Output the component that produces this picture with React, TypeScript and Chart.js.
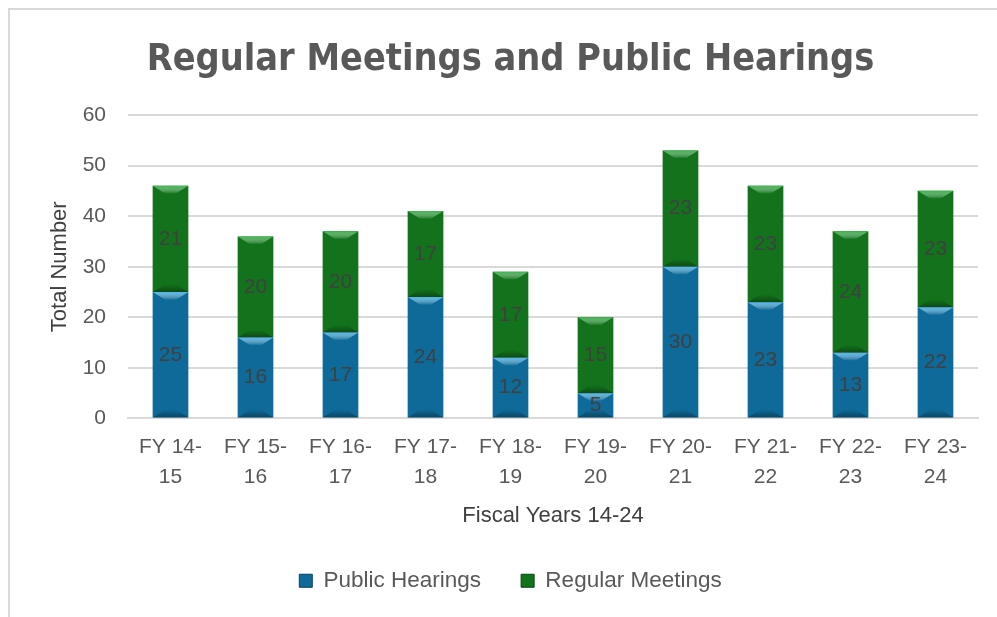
import React, { useEffect, useRef } from "react";
import { Chart, registerables } from "chart.js";

Chart.register(...registerables);

const categories: string[][] = [
  ["FY 14-", "15"], ["FY 15-", "16"], ["FY 16-", "17"], ["FY 17-", "18"], ["FY 18-", "19"],
  ["FY 19-", "20"], ["FY 20-", "21"], ["FY 21-", "22"], ["FY 22-", "23"], ["FY 23-", "24"],
];
const publicHearings = [25, 16, 17, 24, 12, 5, 30, 23, 13, 22];
const regularMeetings = [21, 20, 20, 17, 17, 15, 23, 23, 24, 23];

const FONT = "'Liberation Sans', Arial, sans-serif";
const TEXT = "#595959";

function barGradient(ctx: CanvasRenderingContext2D, x0: number, x1: number, dark: string, mid: string) {
  const g = ctx.createLinearGradient(x0, 0, x1, 0);
  g.addColorStop(0, dark);
  g.addColorStop(0.12, mid);
  g.addColorStop(0.88, mid);
  g.addColorStop(1, dark);
  return g;
}

const bevelPlugin = {
  id: "bevel",
  afterDatasetsDraw(chart: any) {
    const ctx = chart.ctx as CanvasRenderingContext2D;
    const cfg = [
      { light: "#4fb6e8", dark: "#0a3e5c" },
      { light: "#3fb34f", dark: "#0a3a0c" },
    ];
    chart.data.datasets.forEach((ds: any, di: number) => {
      const meta = chart.getDatasetMeta(di);
      meta.data.forEach((bar: any) => {
        const { x, y, base, width } = bar.getProps(["x", "y", "base", "width"], true);
        const l = x - width / 2, r = x + width / 2;
        const top = Math.min(y, base), bot = Math.max(y, base);
        const b = 8;
        ctx.save();
        const gt = ctx.createLinearGradient(0, top, 0, top + b);
        gt.addColorStop(0, cfg[di].light);
        gt.addColorStop(1, "rgba(255,255,255,0)");
        ctx.fillStyle = gt;
        ctx.beginPath();
        ctx.moveTo(l, top);
        ctx.lineTo(r, top);
        ctx.lineTo(r - b * 1.6, top + b);
        ctx.lineTo(l + b * 1.6, top + b);
        ctx.closePath();
        ctx.fill();
        const gb = ctx.createLinearGradient(0, bot - b, 0, bot);
        gb.addColorStop(0, "rgba(0,0,0,0)");
        gb.addColorStop(1, "rgba(0,0,0,0.35)");
        ctx.fillStyle = gb;
        ctx.beginPath();
        ctx.moveTo(l + b * 1.6, bot - b);
        ctx.lineTo(r - b * 1.6, bot - b);
        ctx.lineTo(r, bot);
        ctx.lineTo(l, bot);
        ctx.closePath();
        ctx.fill();
        ctx.restore();
      });
    });
    ctx.save();
    ctx.font = `21px ${FONT}`;
    ctx.fillStyle = "#404040";
    ctx.textAlign = "center";
    ctx.textBaseline = "middle";
    chart.data.datasets.forEach((ds: any, di: number) => {
      const meta = chart.getDatasetMeta(di);
      meta.data.forEach((bar: any, i: number) => {
        const { x, y, base } = bar.getProps(["x", "y", "base"], true);
        ctx.fillText(String(ds.data[i]), x, (y + base) / 2);
      });
    });
    ctx.restore();
  },
};

export default function App() {
  const ref = useRef<HTMLCanvasElement>(null);
  useEffect(() => {
    const canvas = ref.current!;
    const chart = new Chart(canvas, {
      type: "bar",
      data: {
        labels: categories,
        datasets: [
          {
            label: "Public Hearings",
            data: publicHearings,
            backgroundColor: (c: any) => {
              const el = c.element;
              if (!el || el.width === undefined) return "#0e6a98";
              return barGradient(c.chart.ctx, el.x - el.width / 2, el.x + el.width / 2, "#06405f", "#0e6a98");
            },
            borderWidth: 0,
          },
          {
            label: "Regular Meetings",
            data: regularMeetings,
            backgroundColor: (c: any) => {
              const el = c.element;
              if (!el || el.width === undefined) return "#12731c";
              return barGradient(c.chart.ctx, el.x - el.width / 2, el.x + el.width / 2, "#084410", "#12731c");
            },
            borderWidth: 0,
          },
        ],
      },
      options: {
        animation: false,
        responsive: false,
        layout: { padding: { left: 33, right: 19, top: 10, bottom: 15 } },
        datasets: { bar: { barPercentage: 0.42, categoryPercentage: 1 } },
        plugins: {
          title: {
            display: true,
            text: "Regular Meetings and Public Hearings",
            color: TEXT,
            font: { family: "'Liberation Sans Narrow', 'DejaVu Sans Condensed', Arial, sans-serif", size: 37.5, weight: "bold" },
            padding: { top: 18, bottom: 32 },
          },
          legend: {
            position: "bottom",
            labels: {
              color: TEXT,
              font: { family: FONT, size: 22.5 },
              boxWidth: 13,
              boxHeight: 13,
              padding: 40,
              generateLabels: () => [
                { text: "Public Hearings", fillStyle: "#0e6a98", strokeStyle: "#06405f", lineWidth: 1, datasetIndex: 0, fontColor: TEXT },
                { text: "Regular Meetings", fillStyle: "#12731c", strokeStyle: "#084410", lineWidth: 1, datasetIndex: 1, fontColor: TEXT },
              ],
            },
          },
          tooltip: { enabled: false },
        },
        scales: {
          x: {
            stacked: true,
            grid: { display: false },
            border: { display: true, color: "#d9d9d9", width: 2 },
            ticks: { color: TEXT, font: { family: FONT, size: 21, lineHeight: 1.42 }, maxRotation: 0, padding: 6 },
            title: { display: true, text: "Fiscal Years 14-24", color: "#404040", font: { family: FONT, size: 22 }, padding: { top: 5, bottom: 0 } },
          },
          y: {
            stacked: true,
            min: 0,
            max: 60,
            afterFit: (s: any) => { s.width = 85; },
            ticks: { stepSize: 10, color: TEXT, font: { family: FONT, size: 21 }, padding: 22 },
            grid: { color: "#d9d9d9", lineWidth: 2, drawTicks: false },
            border: { display: false },
            title: { display: true, text: "Total Number", color: "#404040", font: { family: FONT, size: 22 }, padding: { bottom: 6 } },
          },
        },
      },
      plugins: [bevelPlugin],
    });
    return () => chart.destroy();
  }, []);
  return (
    <div style={{ position: "absolute", left: 8, top: 8, width: 1000, height: 620, borderLeft: "2px solid #d9d9d9", borderTop: "2px solid #d9d9d9", overflow: "hidden" }}>
      <canvas ref={ref} width={987} height={607} style={{ display: "block", background: "#fff" }} />
    </div>
  );
}
